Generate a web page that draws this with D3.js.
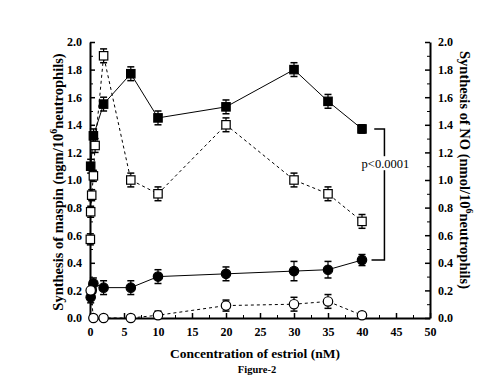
<!DOCTYPE html>
<html>
<head>
<meta charset="utf-8">
<script src="https://cdn.jsdelivr.net/npm/d3@7"></script>
<style>
  body { margin: 0; background: #fff; }
  svg text { font-family: "Liberation Serif", "Times New Roman", serif; font-weight: bold; fill: #000; }
</style>
</head>
<body>
<div id="chart"></div>
<script>
/* Data */
const maspinEstriolX = [0.1, 0.5, 2, 6, 10, 20, 30, 35, 40]
const maspinEstriol = [1.1, 1.32, 1.55, 1.77, 1.45, 1.53, 1.8, 1.57, 1.37]
const maspinEstriolErr = [0.05, 0.05, 0.05, 0.05, 0.05, 0.05, 0.05, 0.05, 0.03]

const noEstriolX = [0.05, 0.1, 0.25, 0.5, 0.75, 2, 6, 10, 20, 30, 35, 40]
const noEstriol = [0.57, 0.77, 0.89, 1.03, 1.25, 1.9, 1.0, 0.9, 1.4, 1.0, 0.9, 0.7]
const noEstriolErr = [0.04, 0.04, 0.04, 0.04, 0.05, 0.05, 0.05, 0.05, 0.05, 0.05, 0.05, 0.05]

const maspinCtrlX = [0.1, 0.25, 0.5, 2, 6, 10, 20, 30, 35, 40]
const maspinCtrl = [0.15, 0.2, 0.25, 0.22, 0.22, 0.3, 0.32, 0.34, 0.35, 0.42]
const maspinCtrlErr = [0.04, 0.04, 0.04, 0.05, 0.05, 0.05, 0.05, 0.07, 0.06, 0.04]

const noCtrlX = [0.1, 0.5, 2, 6, 10, 20, 30, 35, 40]
const noCtrl = [0.2, 0.0, 0.0, 0.0, 0.02, 0.09, 0.1, 0.12, 0.02]
const noCtrlErr = [0.02, 0.02, 0.02, 0.02, 0.03, 0.04, 0.05, 0.05, 0.02]

const xTicks = [0, 5, 10, 15, 20, 25, 30, 35, 40, 45, 50]
const yTicks = [0, 0.2, 0.4, 0.6, 0.8, 1.0, 1.2, 1.4, 1.6, 1.8, 2.0]

const series = [
  { xs: maspinEstriolX, ys: maspinEstriol, err: maspinEstriolErr, shape: 'square', fill: '#000', dash: null },
  { xs: noEstriolX, ys: noEstriol, err: noEstriolErr, shape: 'square', fill: '#fff', dash: '3,3' },
  { xs: maspinCtrlX, ys: maspinCtrl, err: maspinCtrlErr, shape: 'circle', fill: '#000', dash: null },
  { xs: noCtrlX, ys: noCtrl, err: noCtrlErr, shape: 'circle', fill: '#fff', dash: '3,3' },
]

const margin = { top: 42, right: 70, bottom: 68, left: 90 }
const W = 500, H = 386
const width = W - margin.left - margin.right
const height = H - margin.top - margin.bottom

const svg = d3.select('#chart').append('svg')
  .attr('width', W)
  .attr('height', H)

const x = d3.scaleLinear().domain([0, 50]).range([0, width])
const y = d3.scaleLinear().domain([0, 2]).range([height, 0])

const chart = svg.append('g').attr('transform', `translate(${margin.left},${margin.top})`)

/* Minor ticks */
const minorY = d3.range(0.1, 2, 0.2)
const minorX = d3.range(2.5, 50, 5)

function styleAxis(g) {
  g.select('.domain').attr('stroke-width', 2)
  g.selectAll('.tick line').attr('stroke-width', 1.5)
  g.selectAll('.tick text').style('font-size', '12px')
}

const xAxis = chart.append('g').attr('transform', `translate(0,${height})`)
  .call(d3.axisBottom(x).tickValues(xTicks).tickSize(-5).tickSizeOuter(0).tickPadding(9))
styleAxis(xAxis)
chart.append('g').attr('transform', `translate(0,${height})`)
  .call(d3.axisBottom(x).tickValues(minorX).tickSize(-3).tickFormat(''))
  .call(g => g.select('.domain').remove())

const yAxisL = chart.append('g')
  .call(d3.axisLeft(y).tickValues(yTicks).tickFormat(d3.format('.1f')).tickSize(-5).tickSizeOuter(0).tickPadding(8))
styleAxis(yAxisL)
chart.append('g')
  .call(d3.axisLeft(y).tickValues(minorY).tickSize(-3).tickFormat(''))
  .call(g => g.select('.domain').remove())

const yAxisR = chart.append('g').attr('transform', `translate(${width},0)`)
  .call(d3.axisRight(y).tickValues(yTicks).tickFormat(d3.format('.1f')).tickSize(-5).tickSizeOuter(0).tickPadding(8))
styleAxis(yAxisR)
chart.append('g').attr('transform', `translate(${width},0)`)
  .call(d3.axisRight(y).tickValues(minorY).tickSize(-3).tickFormat(''))
  .call(g => g.select('.domain').remove())

/* Series */
const line = d3.line()
series.forEach(s => {
  const pts = s.xs.map((d, i) => [x(d), y(s.ys[i]), s.err[i], s.ys[i]])
  chart.append('path')
    .attr('d', line(pts.map(p => [p[0], p[1]])))
    .attr('fill', 'none')
    .attr('stroke', '#000')
    .attr('stroke-width', 1)
    .attr('stroke-dasharray', s.dash)

  const g = chart.append('g')
  pts.forEach(([px, py, e, v]) => {
    const top = y(v + e), bot = y(Math.max(0, v - e))
    g.append('line').attr('x1', px).attr('x2', px).attr('y1', top).attr('y2', bot)
      .attr('stroke', '#000').attr('stroke-width', 1.2)
    ;[top, bot].forEach(yy => g.append('line')
      .attr('x1', px - 3.5).attr('x2', px + 3.5).attr('y1', yy).attr('y2', yy)
      .attr('stroke', '#000').attr('stroke-width', 1.5))
    if (s.shape === 'square') {
      g.append('rect').attr('x', px - 4.2).attr('y', py - 4.2).attr('width', 8.4).attr('height', 8.4)
        .attr('fill', s.fill).attr('stroke', '#000').attr('stroke-width', 1.2)
    } else {
      g.append('circle').attr('cx', px).attr('cy', py).attr('r', 4.7)
        .attr('fill', s.fill).attr('stroke', '#000').attr('stroke-width', 1.2)
    }
  })
})

/* Significance bracket */
const bx0 = x(41.8), bx1 = x(43.3)
const by0 = y(maspinEstriol[maspinEstriol.length - 1]), by1 = y(maspinCtrl[maspinCtrl.length - 1])
chart.append('path')
  .attr('d', `M${bx0},${by0}H${bx1}V${by1}H${x(41.4)}`)
  .attr('fill', 'none').attr('stroke', '#000').attr('stroke-width', 1.5)
const pLabelY = y(1.1)
chart.append('rect').attr('x', bx1 - 23).attr('y', pLabelY - 10).attr('width', 48).attr('height', 14).attr('fill', '#fff')
chart.append('text').attr('x', bx1 + 1).attr('y', pLabelY + 2).attr('text-anchor', 'middle')
  .style('font-size', '12.5px').style('font-weight', 'normal').text('p<0.0001')

/* Axis titles */
const leftTitle = svg.append('text')
  .attr('transform', `translate(63,${margin.top + height / 2 + 2}) rotate(-90)`)
  .attr('text-anchor', 'middle').style('font-size', '14.5px')
leftTitle.append('tspan').text('Synthesis of maspin (ngm/10')
leftTitle.append('tspan').attr('dy', -6).style('font-size', '10px').text('6')
leftTitle.append('tspan').attr('dy', 6).text('neutrophils)')

const rightTitle = svg.append('text')
  .attr('transform', `translate(460,${margin.top + height / 2 - 10}) rotate(90)`)
  .attr('text-anchor', 'middle').style('font-size', '14.5px')
rightTitle.append('tspan').text('Synthesis of NO (nmol/10')
rightTitle.append('tspan').attr('dy', -6).style('font-size', '10px').text('6')
rightTitle.append('tspan').attr('dy', 6).text('neutrophils)')

svg.append('text').attr('x', margin.left + width / 2 - 5).attr('y', 358)
  .attr('text-anchor', 'middle').style('font-size', '13.5px').text('Concentration of estriol (nM)')
svg.append('text').attr('x', margin.left + width / 2 - 3).attr('y', 373)
  .attr('text-anchor', 'middle').style('font-size', '10.5px').text('Figure-2')
</script>
</body>
</html>
